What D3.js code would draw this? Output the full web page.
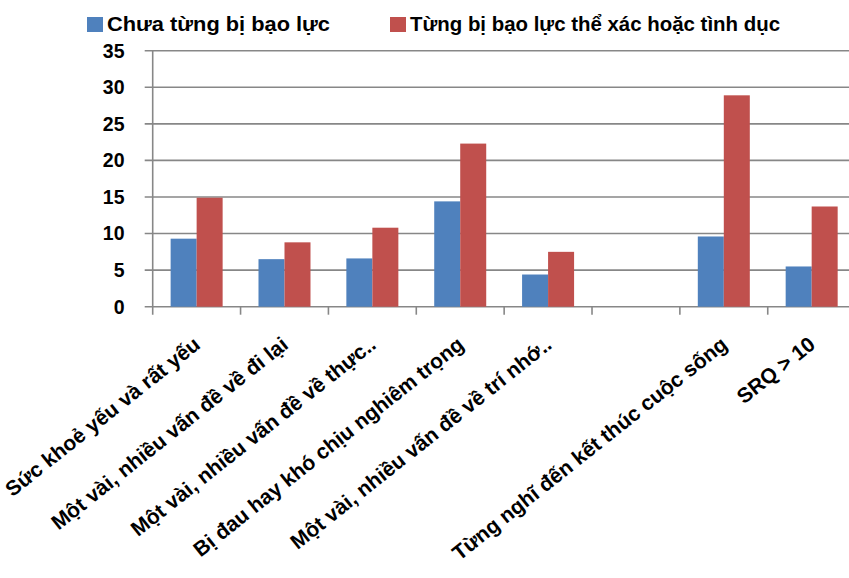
<!DOCTYPE html>
<html>
<head>
<meta charset="utf-8">
<script src="https://cdn.jsdelivr.net/npm/d3@7"></script>
<style>
  html, body { margin: 0; padding: 0; background: #fff; }
  svg { display: block; }
  text { font-family: "Liberation Sans", Arial, sans-serif; font-weight: bold; fill: #000; }
</style>
</head>
<body>
<svg id="chart" width="849" height="578"></svg>
<script>
// Category labels (the sixth slot is an empty group with no bars)
const categories = [
  "Sức khoẻ yếu và rất yếu",
  "Một vài, nhiều vấn đề về đi lại",
  "Một vài, nhiều vấn đề về thực..",
  "Bị đau hay khó chịu nghiêm trọng",
  "Một vài, nhiều vấn đề về trí nhớ..",
  "",
  "Từng nghĩ đến kết thúc cuộc sống",
  "SRQ > 10"
];
const seriesNames = ["Chưa từng bị bạo lực", "Từng bị bạo lực thể xác hoặc tình dục"];
const neverAbused = [9.3, 6.5, 6.6, 14.4, 4.4, null, 9.6, 5.5];
const everAbused  = [14.9, 8.8, 10.8, 22.3, 7.5, null, 28.9, 13.7];
const yTicks = [0, 5, 10, 15, 20, 25, 30, 35];

const colors = ["#4F81BD", "#C0504D"];
const svg = d3.select("#chart");

const plot = { left: 152.7, right: 855.6, top: 50.7, bottom: 306.7 };

const x = d3.scaleBand().domain(d3.range(categories.length)).range([plot.left, plot.right]).padding(0);
const y = d3.scaleLinear().domain([0, 35]).range([plot.bottom, plot.top]);
const barW = 26;
const xSub = d3.scaleBand().domain([0, 1]).range([-barW, barW]).padding(0);

// Horizontal gridlines (extending left as tick marks)
svg.append("g")
  .selectAll("line")
  .data(yTicks)
  .join("line")
  .attr("x1", plot.left - 8).attr("x2", 849)
  .attr("y1", d => y(d)).attr("y2", d => y(d))
  .attr("stroke", "#878787").attr("stroke-width", 1.6);

// Y axis line
svg.append("line")
  .attr("x1", plot.left).attr("x2", plot.left)
  .attr("y1", plot.top).attr("y2", plot.bottom + 8)
  .attr("stroke", "#878787").attr("stroke-width", 1.6);

// Category tick marks at band boundaries
svg.append("g")
  .selectAll("line")
  .data(d3.range(1, categories.length + 1))
  .join("line")
  .attr("x1", d => x.range()[0] + d * x.bandwidth())
  .attr("x2", d => x.range()[0] + d * x.bandwidth())
  .attr("y1", plot.bottom).attr("y2", plot.bottom + 8)
  .attr("stroke", "#878787").attr("stroke-width", 1.6);

// Y tick labels
svg.append("g")
  .selectAll("text")
  .data(yTicks)
  .join("text")
  .attr("x", 124.5)
  .attr("y", d => y(d))
  .attr("dy", "0.35em")
  .attr("text-anchor", "end")
  .style("font-size", "19.5px")
  .text(d => d);

// Bars
const series = [neverAbused, everAbused];
series.forEach((vals, s) => {
  svg.append("g")
    .selectAll("rect")
    .data(vals.map((v, i) => ({ v, i })).filter(d => d.v != null))
    .join("rect")
    .attr("x", d => x(d.i) + x.bandwidth() / 2 + xSub(s))
    .attr("y", d => y(d.v))
    .attr("width", xSub.bandwidth())
    .attr("height", d => y(0) - y(d.v))
    .attr("fill", colors[s]);
});

// Rotated category labels
svg.append("g")
  .selectAll("text")
  .data(categories.map((c, i) => ({ c, i })))
  .join("text")
  .attr("transform", d => `translate(${x(d.i) + x.bandwidth() / 2 + 5},347) rotate(-38.5)`)
  .attr("text-anchor", "end")
  .style("font-size", "21px")
  .text(d => d.c);

// Legend
const legend = [
  { sx: 87, tx: 107, len: 223 },
  { sx: 390, tx: 410, len: 370 }
];
legend.forEach((l, s) => {
  svg.append("rect")
    .attr("x", l.sx).attr("y", 17)
    .attr("width", 16).attr("height", 15)
    .attr("fill", colors[s]);
  svg.append("text")
    .attr("x", l.tx).attr("y", 31)
    .style("font-size", "21px")
    .attr("textLength", l.len)
    .attr("lengthAdjust", "spacingAndGlyphs")
    .text(seriesNames[s]);
});
</script>
</body>
</html>
